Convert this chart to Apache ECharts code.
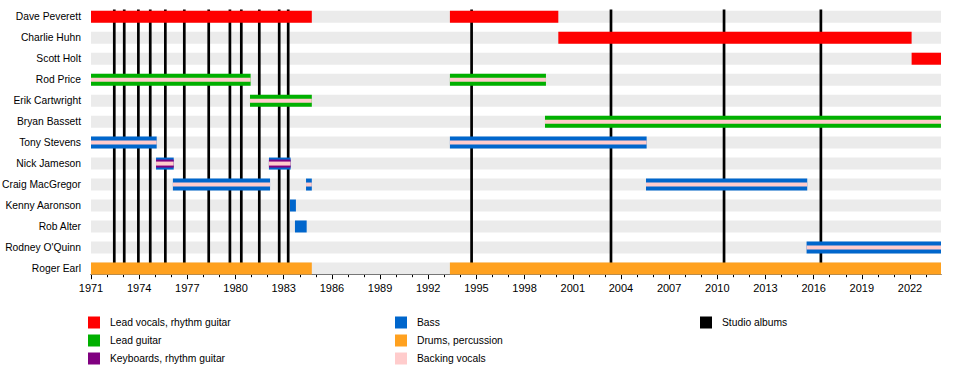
<!DOCTYPE html>
<html>
<head>
<meta charset="utf-8">
<script src="https://cdn.jsdelivr.net/npm/echarts@6/dist/echarts.min.js"></script>
<style>
html,body{margin:0;padding:0;background:#fff;}
#chart{width:960px;height:374px;}
</style>
</head>
<body>
<div id="chart"></div>
<script>
// ---------- data ----------
const members = ['Dave Peverett', 'Charlie Huhn', 'Scott Holt', 'Rod Price', 'Erik Cartwright',
  'Bryan Bassett', 'Tony Stevens', 'Nick Jameson', 'Craig MacGregor', 'Kenny Aaronson',
  'Rob Alter', "Rodney O'Quinn", 'Roger Earl'];

const START = 1971;
const END = 2023.93;

const vocalsSpans = [
  ['Dave Peverett', 1971, 1984.75],
  ['Dave Peverett', 1993.35, 2000.1],
  ['Charlie Huhn', 2000.1, 2022.1],
  ['Scott Holt', 2022.1, END]
];
const guitarSpans = [
  ['Rod Price', 1971, 1980.94],
  ['Rod Price', 1993.35, 1999.33],
  ['Erik Cartwright', 1980.9, 1984.75],
  ['Bryan Bassett', 1999.27, END]
];
const keysSpans = [
  ['Nick Jameson', 1975.05, 1976.15],
  ['Nick Jameson', 1982.08, 1983.43]
];
const bassSpans = [
  ['Tony Stevens', 1971, 1975.09],
  ['Tony Stevens', 1993.35, 2005.6],
  ['Nick Jameson', 1975.05, 1976.15],
  ['Nick Jameson', 1982.08, 1983.43],
  ['Craig MacGregor', 1976.1, 1982.15],
  ['Craig MacGregor', 1984.39, 1984.75],
  ['Craig MacGregor', 2005.56, 2015.6],
  ['Kenny Aaronson', 1983.39, 1983.76],
  ['Rob Alter', 1983.7, 1984.43],
  ["Rodney O'Quinn", 2015.56, END]
];
const drumsSpans = [
  ['Roger Earl', 1971, 1984.75],
  ['Roger Earl', 1993.35, END]
];
const backingSpans = [
  ['Rod Price', 1971, 1980.94],
  ['Rod Price', 1993.35, 1999.33],
  ['Erik Cartwright', 1980.9, 1984.75],
  ['Bryan Bassett', 1999.27, END],
  ['Tony Stevens', 1971, 1975.09],
  ['Tony Stevens', 1993.35, 2005.6],
  ['Nick Jameson', 1975.05, 1976.15],
  ['Nick Jameson', 1982.08, 1983.43],
  ['Craig MacGregor', 1976.1, 1982.15],
  ['Craig MacGregor', 1984.39, 1984.75],
  ['Craig MacGregor', 2005.56, 2015.6],
  ["Rodney O'Quinn", 2015.56, END]
];
const studioAlbums = [1972.45, 1973.07, 1973.95, 1974.69, 1975.63, 1976.81, 1978.33, 1979.65,
  1980.36, 1981.48, 1982.72, 1983.28, 1994.7, 2003.38, 2010.42, 2016.45];

const majorTicks = [1971, 1974, 1977, 1980, 1983, 1986, 1989, 1992, 1995, 1998, 2001, 2004,
  2007, 2010, 2013, 2016, 2019, 2022];
const minorTicks = [1971, 1972, 1973, 1974, 1975, 1976, 1977, 1978, 1979, 1980, 1981, 1982, 1983,
  1984, 1985, 1986, 1987, 1988, 1989, 1990, 1991, 1992, 1993, 1994, 1995, 1996, 1997, 1998, 1999,
  2000, 2001, 2002, 2003, 2004, 2005, 2006, 2007, 2008, 2009, 2010, 2011, 2012, 2013, 2014, 2015,
  2016, 2017, 2018, 2019, 2020, 2021, 2022, 2023];

// ---------- chart ----------
const FONT = "'Liberation Sans', Arial, sans-serif";
const BAR_H = 12;

function spanRenderer(h) {
  return function (params, api) {
    const row = api.value(0);
    const a = api.coord([api.value(1), row]);
    const b = api.coord([api.value(2), row]);
    return {
      type: 'rect',
      shape: { x: a[0], y: a[1] - h / 2, width: b[0] - a[0], height: h },
      style: { fill: api.visual('color') }
    };
  };
}

function spanSeries(name, data, color, h) {
  return {
    type: 'custom', name: name, data: data,
    encode: { x: [1, 2], y: 0 },
    itemStyle: { color: color },
    renderItem: spanRenderer(h),
    silent: true
  };
}

const chart = echarts.init(document.getElementById('chart'), null, { renderer: 'svg' });

const legendText = { color: '#000', fontSize: 10.3, fontFamily: FONT, padding: [0, 0, 0, 5] };
function legendBlock(left, data) {
  return {
    left: left, top: 316.5, orient: 'vertical', icon: 'rect', padding: 0,
    itemWidth: 12, itemHeight: 12, itemGap: 6,
    selectedMode: false, textStyle: legendText, data: data
  };
}

chart.setOption({
  animation: false,
  backgroundColor: '#fff',
  grid: { left: 91, right: 19, top: 6.3, bottom: 95.1, containLabel: false, outerBoundsMode: 'none' },
  xAxis: [
    {
      type: 'value', min: START, max: END, interval: 3, position: 'bottom', offset: -4.7,
      axisLine: { show: true, onZero: false, lineStyle: { color: '#000', width: 1 } },
      axisTick: { show: true, length: 5, customValues: majorTicks, lineStyle: { color: '#000' } },
      axisLabel: {
        customValues: majorTicks, color: '#000', fontSize: 11, fontFamily: FONT, margin: 8,
        formatter: function (v) { return String(v); }
      },
      splitLine: { show: false }
    },
    {
      type: 'value', min: START, max: END, interval: 1, position: 'bottom', offset: -4.7,
      axisLine: { show: false, onZero: false },
      axisTick: { show: true, length: 3, customValues: minorTicks, lineStyle: { color: '#000' } },
      axisLabel: { show: false },
      splitLine: { show: false }
    }
  ],
  yAxis: {
    type: 'category', data: members, inverse: true,
    axisLine: { show: false }, axisTick: { show: false }, splitLine: { show: false },
    axisLabel: { margin: 10, color: '#000', fontSize: 10.3, fontFamily: FONT }
  },
  legend: [
    legendBlock(88, ['Lead vocals, rhythm guitar', 'Lead guitar', 'Keyboards, rhythm guitar']),
    legendBlock(395, ['Bass', 'Drums, percussion', 'Backing vocals']),
    legendBlock(700, ['Studio albums'])
  ],
  series: [
    spanSeries('bands', members.map(function (m) { return [m, START, END]; }), '#ebebeb', BAR_H),
    {
      type: 'custom', name: 'Studio albums',
      data: studioAlbums.map(function (y) { return [y, members[0]]; }),
      encode: { x: 0, y: 1 },
      itemStyle: { color: '#000' },
      silent: true,
      renderItem: function (params, api) {
        const x = api.value(0);
        const t = api.coord([x, 0]);
        const b = api.coord([x, members.length - 1]);
        return {
          type: 'line',
          shape: { x1: t[0], y1: t[1] - 7.4, x2: t[0], y2: b[1] },
          style: { stroke: api.visual('color'), lineWidth: 2.7 }
        };
      }
    },
    spanSeries('Lead vocals, rhythm guitar', vocalsSpans, '#ff0000', BAR_H),
    spanSeries('Lead guitar', guitarSpans, '#00b000', BAR_H),
    spanSeries('Bass', bassSpans, '#0066cc', BAR_H),
    spanSeries('Drums, percussion', drumsSpans, '#ffa11f', BAR_H),
    spanSeries('Keyboards, rhythm guitar', keysSpans, '#800080', 8),
    spanSeries('Backing vocals', backingSpans, '#ffcccc', 4)
  ]
});
</script>
</body>
</html>
